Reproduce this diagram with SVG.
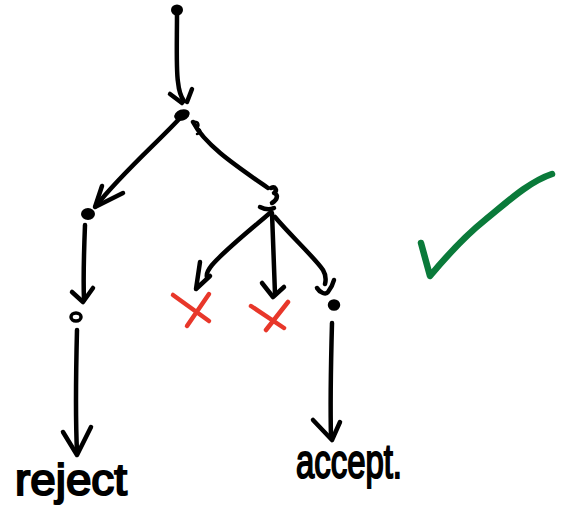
<svg xmlns="http://www.w3.org/2000/svg" width="564" height="529" viewBox="0 0 564 529">
<style>
.ln{fill:none;stroke:#000;stroke-width:4.5;stroke-linecap:round;stroke-linejoin:round}
.dot{fill:#000}
.ring{fill:none;stroke:#000;stroke-width:3.5}
.x{fill:none;stroke:#e8372a;stroke-width:4.5;stroke-linecap:round}
.chk{fill:none;stroke:#0a7a3a;stroke-width:6.5;stroke-linecap:round;stroke-linejoin:round}
.lbl{font-family:"Liberation Sans",Arial,sans-serif;font-size:44px;fill:#000;stroke:#000;stroke-width:2}
</style>
<rect width="564" height="529" fill="#fff"/>
<g id="connectors">
  <path class="ln" d="M177,14 C177,40 176,70 178,82 C179,92 181,97 184,101"/>
  <path class="ln" d="M170,94 L182,103 M192,89 L187,102"/>
  <path class="ln" d="M180,118 C160,140 120,175 96,206"/>
  <path class="ln" d="M102,186 L95,207 L123,193"/>
  <path class="ln" d="M193,122 C205,145 235,165 268,188"/>
  <path class="ln" d="M85,225 C84,250 83,275 84,300"/>
  <path class="ln" d="M72,292 L83,302 L93,288"/>
  <path class="ln" d="M77,330 C76,370 75,410 77,452"/>
  <path class="ln" d="M63,432 L77,455 L91,427"/>
  <path class="ln" d="M270,213 C250,230 225,250 212,265 C208,270 206,274 207,277"/>
  <path class="ln" d="M200,262 L196,289 L210,276"/>
  <path class="ln" d="M272,213 C273,240 274,265 275,294"/>
  <path class="ln" d="M262,283 L273,297 L284,287"/>
  <path class="ln" d="M275,217 C290,235 315,258 323,270 C326,275 326,280 325,284"/>
  <path class="ln" d="M317,288 C320,293 326,295 328,292 C331,288 333,284 334,280"/>
  <path class="ln" d="M332,323 C331,360 330,400 331,437"/>
  <path class="ln" d="M313,420 L332,440 L340,422"/>
</g>
<g id="n-top"><ellipse class="dot" cx="177" cy="10" rx="6" ry="5.5"/></g>
<g id="n-root"><ellipse class="dot" cx="182" cy="115" rx="8" ry="5.5" transform="rotate(-20 182 115)"/>
  <path class="ln" d="M193,122 C199,121 200,126 196,128 C201,129 202,133 197,134" style="stroke-width:2.5"/></g>
<g id="n-left"><ellipse class="dot" cx="88" cy="214" rx="7" ry="6"/></g>
<g id="n-left2"><ellipse class="ring" cx="76" cy="317" rx="5" ry="4"/></g>
<g id="n-right"><path class="ln" d="M271,188 C275,186 278,190 274,193 C279,195 277,200 272,203 M260,207 C264,209 270,210 274,208"/></g>
<g id="n-accept"><ellipse class="ring" cx="334" cy="305" rx="4.5" ry="4" style="fill:#000"/></g>
<g id="x1"><path class="x" d="M173,295 L209,321 M209,294 L187,326"/></g>
<g id="x2"><path class="x" d="M251,306 L284,328 M288,302 L266,330"/></g>
<g id="check"><path class="chk" d="M421,243 L430,276 C445,258 465,236 485,220 C505,204 528,182 552,174"/></g>
<g id="reject"><text class="lbl" x="15" y="495" textLength="112" lengthAdjust="spacingAndGlyphs">reject</text></g>
<g id="accept"><text class="lbl" x="296" y="478" textLength="106" lengthAdjust="spacingAndGlyphs" style="font-size:48px">accept.</text></g>
</svg>
